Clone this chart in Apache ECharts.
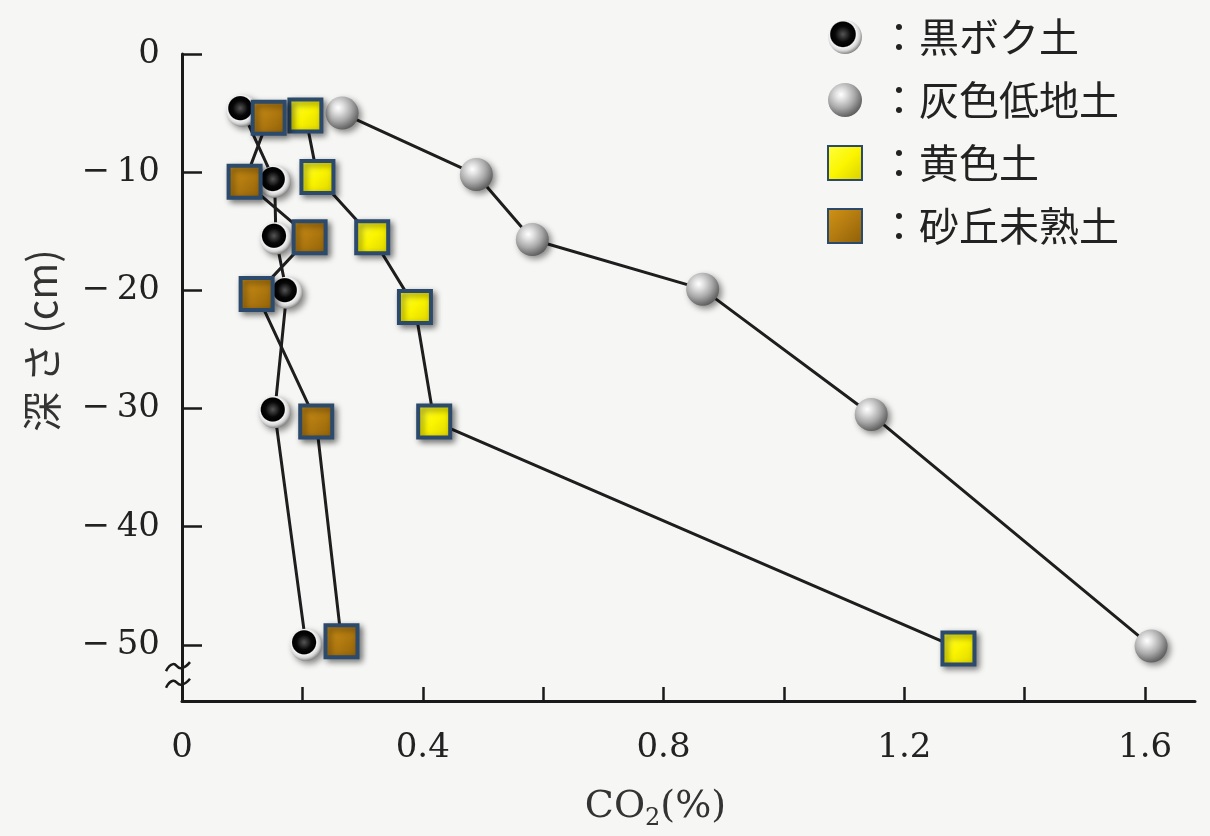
<!DOCTYPE html>
<html>
<head>
<meta charset="utf-8">
<script src="https://cdn.jsdelivr.net/npm/echarts@6/dist/echarts.min.js"></script>
<style>
  html, body { margin: 0; padding: 0; background: #f6f6f4; }
  #chart { width: 1210px; height: 836px; }
</style>
</head>
<body>
<div id="chart"></div>
<script>
// 深さ(cm) と CO2(%) の読み取り値
const kurobokuCO2 = [0.100, 0.154, 0.156, 0.174, 0.154, 0.206];
const kurobokuDepth = [-4.8, -10.8, -15.6, -20.2, -30.3, -50.0];

const haiiroCO2 = [0.266, 0.489, 0.582, 0.865, 1.145, 1.610];
const haiiroDepth = [-5.0, -10.2, -15.7, -19.9, -30.5, -50.1];

const ouiroCO2 = [0.205, 0.225, 0.316, 0.387, 0.419, 1.290];
const ouiroDepth = [-5.2, -10.4, -15.5, -21.4, -31.1, -50.3];

const sakyuCO2 = [0.144, 0.104, 0.212, 0.124, 0.223, 0.265];
const sakyuDepth = [-5.4, -10.8, -15.5, -20.3, -31.1, -49.7];

const xTicks = [0.2, 0.4, 0.6, 0.8, 1.0, 1.2, 1.4, 1.6];
const xLabels = [0, 0.4, 0.8, 1.2, 1.6];
const yTicks = [0, -10, -20, -30, -40, -50];

const seriesNames = ['黒ボク土', '灰色低地土', '黄色土', '砂丘未熟土'];
const legendIcons = ['circle', 'circle', 'rect', 'rect'];

const pairs = (xs, ys) => xs.map((x, i) => [x, ys[i]]);

const lineStyle = { color: '#1e1e1e', width: 3 };
const shadow = {
    shadowBlur: 6,
    shadowColor: 'rgba(0,0,0,0.45)',
    shadowOffsetX: 3,
    shadowOffsetY: 3
};

const chart = echarts.init(document.getElementById('chart'));

chart.setOption({
    animation: false,
    backgroundColor: '#f6f6f4',
    grid: {
        left: 182,
        right: 15,
        top: 54,
        bottom: 134
    },
    legend: {
        orient: 'vertical',
        left: 822,
        top: 10,
        itemWidth: 34,
        itemHeight: 34,
        itemGap: 19,
        data: seriesNames.map((n, i) => ({ name: n, icon: legendIcons[i] })),
        formatter: (name) => '：' + name,
        textStyle: {
            fontFamily: 'Noto Sans CJK JP',
            fontSize: 40,
            lineHeight: 44,
            color: '#222',
            padding: [0, 0, 0, 12]
        }
    },
    xAxis: {
        type: 'value',
        min: 0,
        max: 1.683,
        name: '{a|CO}{s|2}{a|(%)}',
        nameLocation: 'middle',
        nameGap: 82,
        nameTextStyle: {
            padding: [0, 66, 0, 0],
            rich: {
                a: { fontFamily: 'DejaVu Serif', fontSize: 38, color: '#333' },
                s: { fontFamily: 'DejaVu Serif', fontSize: 24, color: '#333', padding: [24, 0, 0, 0] }
            }
        },
        splitLine: { show: false },
        axisLine: { onZero: false, lineStyle: { color: '#1a1a1a', width: 3 } },
        axisTick: {
            inside: true,
            length: 14,
            customValues: xTicks,
            lineStyle: { color: '#1a1a1a', width: 2.5 }
        },
        axisLabel: {
            customValues: xLabels,
            margin: 30,
            fontFamily: 'DejaVu Serif',
            fontSize: 34,
            color: '#222',
            formatter: (v) => v === 0 ? '0' : v.toFixed(1)
        }
    },
    yAxis: {
        type: 'value',
        min: -54.75,
        max: 0,
        name: '深 さ (cm)',
        nameLocation: 'middle',
        nameRotate: 90,
        nameGap: 120,
        nameTextStyle: {
            fontFamily: 'Noto Sans CJK JP',
            fontSize: 40,
            color: '#333',
            padding: [0, 0, 0, 74]
        },
        splitLine: { show: false },
        axisLine: { onZero: false, lineStyle: { color: '#1a1a1a', width: 3 } },
        axisTick: {
            inside: true,
            length: 20,
            customValues: yTicks,
            lineStyle: { color: '#1a1a1a', width: 2.5 }
        },
        axisLabel: {
            customValues: yTicks,
            margin: 22,
            fontFamily: 'DejaVu Serif',
            fontSize: 34,
            color: '#222',
            formatter: (v) => v === 0 ? '0' : '\u2212\u2009' + Math.abs(v)
        }
    },
    series: [
        {
            name: '黒ボク土',
            type: 'line',
            data: pairs(kurobokuCO2, kurobokuDepth),
            symbol: 'circle',
            symbolSize: 32,
            lineStyle: lineStyle,
            itemStyle: Object.assign({
                color: new echarts.graphic.RadialGradient(0.44, 0.42, 0.58, [
                    { offset: 0, color: '#555' },
                    { offset: 0.4, color: '#080808' },
                    { offset: 0.62, color: '#000' },
                    { offset: 0.68, color: '#f4f4f4' },
                    { offset: 0.84, color: '#d4d4d4' },
                    { offset: 1, color: '#8a8a8a' }
                ])
            }, shadow)
        },
        {
            name: '灰色低地土',
            type: 'line',
            data: pairs(haiiroCO2, haiiroDepth),
            symbol: 'circle',
            symbolSize: 33,
            lineStyle: lineStyle,
            itemStyle: Object.assign({
                color: new echarts.graphic.RadialGradient(0.38, 0.34, 0.7, [
                    { offset: 0, color: '#ffffff' },
                    { offset: 0.22, color: '#e2e2e2' },
                    { offset: 0.58, color: '#a9a9a9' },
                    { offset: 0.85, color: '#747474' },
                    { offset: 1, color: '#5a5a5a' }
                ])
            }, shadow)
        },
        {
            name: '黄色土',
            type: 'line',
            data: pairs(ouiroCO2, ouiroDepth),
            symbol: 'rect',
            symbolSize: 32,
            lineStyle: lineStyle,
            itemStyle: Object.assign({
                color: new echarts.graphic.LinearGradient(0, 0, 1, 1, [
                    { offset: 0, color: '#ffff40' },
                    { offset: 0.5, color: '#fbf500' },
                    { offset: 1, color: '#d8cf00' }
                ]),
                borderColor: '#2c4a6b',
                borderWidth: 4
            }, shadow)
        },
        {
            name: '砂丘未熟土',
            type: 'line',
            data: pairs(sakyuCO2, sakyuDepth),
            symbol: 'rect',
            symbolSize: 32,
            lineStyle: lineStyle,
            itemStyle: Object.assign({
                color: new echarts.graphic.LinearGradient(0, 0, 1, 1, [
                    { offset: 0, color: '#d29416' },
                    { offset: 0.5, color: '#b27a10' },
                    { offset: 1, color: '#8d5f08' }
                ]),
                borderColor: '#2c4a6b',
                borderWidth: 4
            }, shadow)
        }
    ]
});

// 軸の省略記号（≈）
const b1 = chart.convertToPixel({ gridIndex: 0 }, [0, -51.8]);
const b2 = chart.convertToPixel({ gridIndex: 0 }, [0, -53.2]);
const squiggle = (p) => ({
    type: 'polyline',
    shape: {
        points: [[p[0] - 16, p[1] + 5], [p[0] - 9, p[1] - 2], [p[0] - 1, p[1] + 2], [p[0] + 8, p[1] - 4]],
        smooth: 0.5
    },
    style: { stroke: '#1a1a1a', lineWidth: 2.5, fill: null },
    z: 101
});
chart.setOption({
    graphic: [squiggle(b1), squiggle(b2)]
});
</script>
</body>
</html>
